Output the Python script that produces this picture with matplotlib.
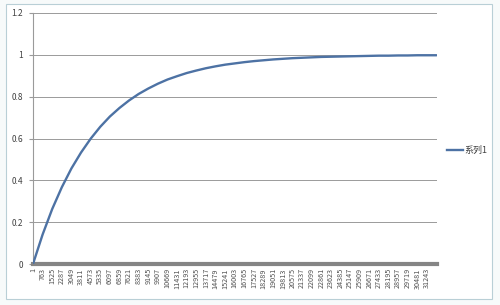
import numpy as np
import matplotlib.pyplot as plt
from matplotlib.patches import Rectangle

# values at every 762nd category (1, 763, 1525, ...)
cats = [1 + 762 * k for k in range(43)]
vals = [0.0, 0.141, 0.263, 0.367, 0.457, 0.533, 0.599, 0.656, 0.705, 0.746,
        0.782, 0.813, 0.839, 0.862, 0.882, 0.898, 0.913, 0.925, 0.936, 0.945,
        0.953, 0.959, 0.965, 0.970, 0.974, 0.978, 0.981, 0.984, 0.986, 0.988,
        0.990, 0.991, 0.992, 0.993, 0.994, 0.995, 0.996, 0.996, 0.997, 0.997,
        0.998, 0.998, 0.998]
tick_cats = cats[:42]
tick_labels = [str(c) for c in tick_cats]
yticks = [0, 0.2, 0.4, 0.6, 0.8, 1.0, 1.2]
ylabels = ['0', '0.2', '0.4', '0.6', '0.8', '1', '1.2']
series_name = '系列1'

plt.rcParams['font.family'] = ['Noto Sans CJK SC', 'DejaVu Sans']
line_col = '#4d72a4'

fig = plt.figure(figsize=(5, 3.05), dpi=100)
fig.patch.set_facecolor('#f7fafa')
# chart frame
fig.patches.append(Rectangle((6 / 500, 6 / 305), 486 / 500, 295 / 305,
                             transform=fig.transFigure, facecolor='white',
                             edgecolor='#b9cfd6', lw=0.8, zorder=0))

ax = fig.add_axes([33 / 500, 41 / 305, 404 / 500, 251 / 305])
ax.set_zorder(2)
ax.set_facecolor('white')
ax.plot(cats, vals, color=line_col, lw=1.7, solid_capstyle='round', zorder=3)

ax.set_xlim(1, 32040)
ax.set_ylim(0, 1.2)
ax.set_yticks(yticks)
ax.set_yticklabels(ylabels)
ax.yaxis.grid(True, color='#9a9a9a', lw=0.7)
ax.set_axisbelow(True)
ax.set_xticks(tick_cats)
ax.set_xticklabels(tick_labels, rotation=90, fontsize=5.2, color='#505050')
ax.tick_params(axis='x', length=0, pad=3)
ax.tick_params(axis='y', length=3, color='#9a9a9a', labelsize=6, labelcolor='#404040', pad=4)
for s in ['top', 'right']:
    ax.spines[s].set_visible(False)
ax.spines['left'].set_color('#9a9a9a')
ax.spines['left'].set_linewidth(0.8)
ax.spines['bottom'].set_color('#858585')
ax.spines['bottom'].set_linewidth(3)

fig.lines.append(plt.Line2D([447 / 500, 463 / 500], [155 / 305, 155 / 305],
                            transform=fig.transFigure, color=line_col, lw=1.7, zorder=3))
fig.text(464 / 500, 155 / 305, series_name, fontsize=6.5, color='#404040', va='center', zorder=3)

fig.savefig('out.png', dpi=100, facecolor=fig.get_facecolor())
